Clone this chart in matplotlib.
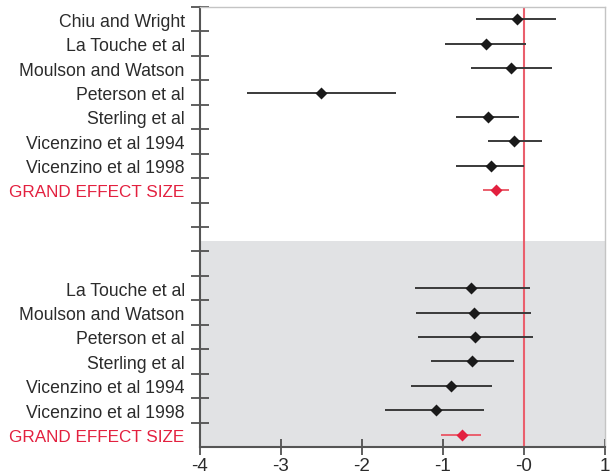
import matplotlib
matplotlib.use("Agg")
import matplotlib.pyplot as plt
import numpy as np

plt.rcParams['font.family'] = ['Liberation Sans', 'DejaVu Sans']

top_labels = ["Chiu and Wright", "La Touche et al", "Moulson and Watson", "Peterson et al",
              "Sterling et al", "Vicenzino et al 1994", "Vicenzino et al 1998", "GRAND EFFECT SIZE"]
top_est = [-0.09, -0.47, -0.16, -2.51, -0.45, -0.12, -0.41, -0.35]
top_lo = [-0.59, -0.98, -0.66, -3.42, -0.84, -0.45, -0.84, -0.51]
top_hi = [0.40, 0.03, 0.34, -1.58, -0.06, 0.22, 0.00, -0.19]

bot_labels = ["La Touche et al", "Moulson and Watson", "Peterson et al",
              "Sterling et al", "Vicenzino et al 1994", "Vicenzino et al 1998", "GRAND EFFECT SIZE"]
bot_est = [-0.65, -0.62, -0.60, -0.64, -0.90, -1.09, -0.76]
bot_lo = [-1.35, -1.33, -1.31, -1.15, -1.40, -1.72, -1.02]
bot_hi = [0.07, 0.09, 0.11, -0.12, -0.40, -0.49, -0.53]

x_ticks = [-4, -3, -2, -1, 0, 1]
x_ticklabels = ["-4", "-3", "-2", "-1", "-0", "1"]

n_rows = 18
top_rows = list(range(0, 8))
bot_rows = list(range(11, 18))

BLACK = "#1a1a1a"
LINE = "#3a3a3a"
RED = "#e3203f"
RED_LINE = "#ea5f6d"
TEXT = "#2b2b2b"

fig = plt.figure(figsize=(6.1, 4.77), dpi=100)
ax = fig.add_axes([200/610, 1-448/477, 405/610, 440/477])

ax.axhspan(9.57, n_rows, color="#e1e2e4", zorder=0, lw=0)

def draw(rows, est, lo, hi):
    for i, (r, e, l, h) in enumerate(zip(rows, est, lo, hi)):
        grand = (i == len(rows) - 1)
        y = r + 0.5
        ax.plot([l, h], [y, y], color=RED_LINE if grand else LINE, lw=1.4, zorder=3,
                solid_capstyle='butt')
        ax.plot([e], [y], marker='D', color=RED if grand else BLACK,
                markersize=6.5 if not grand else 6, zorder=4, mec='none')

draw(top_rows, top_est, top_lo, top_hi)
draw(bot_rows, bot_est, bot_lo, bot_hi)

ax.axvline(0, color=RED_LINE, lw=1.5, zorder=2)

ax.set_xlim(-4, 1)
ax.set_ylim(n_rows, 0)

ax.set_xticks(x_ticks)
ax.set_xticklabels(x_ticklabels, fontsize=13.5, color=TEXT)
ax.tick_params(axis='x', direction='inout', length=12, width=1.2, color="#444444", pad=1)

ax.set_yticks(list(range(0, n_rows)))
ax.set_yticklabels([])
ax.tick_params(axis='y', which='major', direction='inout', length=13, width=1.2, color="#444444")

centers = [r + 0.5 for r in top_rows + bot_rows]
labels = top_labels + bot_labels
ax.set_yticks(centers, minor=True)
ax.set_yticklabels(labels, minor=True, fontsize=12.7, color=TEXT)
ax.tick_params(axis='y', which='minor', length=0, pad=11)
for lab in ax.get_yticklabels(minor=True):
    if lab.get_text().startswith("GRAND"):
        lab.set_color(RED)
        lab.set_fontsize(12.3)

for s in ['left', 'bottom']:
    ax.spines[s].set_color("#555555")
    ax.spines[s].set_linewidth(1.5)
for s in ['top', 'right']:
    ax.spines[s].set_color("#c4c4c4")
    ax.spines[s].set_linewidth(1.0)

fig.savefig("out.png", dpi=100)
